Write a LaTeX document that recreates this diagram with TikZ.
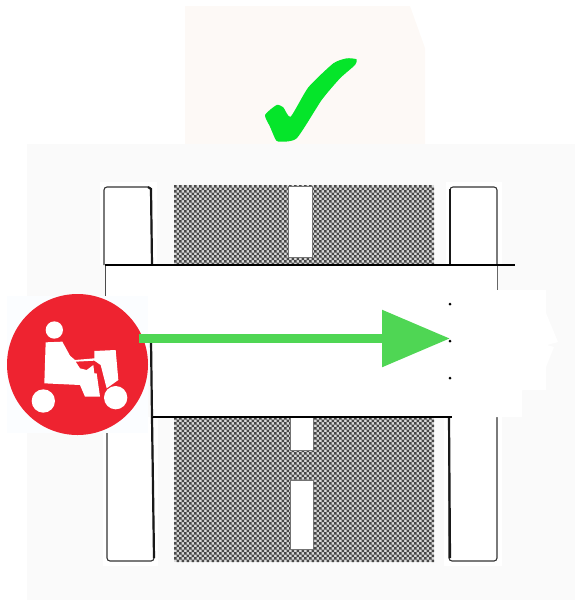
\documentclass[tikz,border=0pt]{standalone}
\usepackage{xcolor}
\usetikzlibrary{arrows.meta,positioning}
\definecolor{panelgrey}{HTML}{FAFAFA}
\definecolor{paneltop}{HTML}{FDF9F6}
\definecolor{signhalo}{HTML}{FBFDFF}
\definecolor{signred}{HTML}{EE2330}
\definecolor{tickgreen}{HTML}{05E52A}
\definecolor{arrowgreen}{HTML}{4FD654}
\newcommand{\roadchecks}[4]{%
  \fill[black!14] (#1,#2) rectangle ++(5*#3,5*#4);
  \foreach \i in {1,...,#3} \foreach \j in {1,...,#4} {
    \fill[black!72] (#1+5*\i-5,#2+5*\j-5) rectangle ++(2.5,2.5)
      (#1+5*\i-2.5,#2+5*\j-2.5) rectangle ++(2.5,2.5);
  }}

\begin{document}
\begin{tikzpicture}[
      x=1pt, y=-1pt,
      dash box/.style={draw=black!55, line width=1pt, fill=white},
      kerb/.style={draw=black!80, line width=1.1pt, rounded corners=3pt},
      heavy/.style={draw=black!90, line width=2.2pt},
      arr/.style={-{Triangle[length=68pt,width=55pt]}, draw=arrowgreen, line width=9pt}
    ]
    \useasboundingbox (0,0) rectangle (575,600);

    % backgrounds
    \fill[paneltop] (185,6) -- (410,6) -- (425,48) -- (425,144) -- (185,144) -- cycle;
    \fill[panelgrey] (27,144) rectangle (575,600);

    % road surface
    \roadchecks{174}{185}{52}{16}
    \roadchecks{174}{417}{52}{29}
    \draw[dash box] (288,186) rectangle (312,257);
    \draw[dash box] (290,417) rectangle (313,450);
    \draw[dash box] (290,480) rectangle (313,549);

    % kerbs
    \fill[white] (100,182) rectangle (157,265);
    \fill[white] (446,182) rectangle (502,265);
    \fill[white] (103,417) rectangle (158,566);
    \fill[white] (444,417) rectangle (502,566);
    \draw[kerb] (104,265) |- (151,187) -- (152,265);
    \draw[heavy] (148,187) -- (151,189) -- (152,265);
    \draw[kerb] (450,265) |- (497,187) -- (497,265);
    \draw[heavy] (450,189) -- (450,265);
    \draw[kerb] (107,433) |- (154,561) -- (152,417);
    \draw[heavy] (152,417) -- (154,558);
    \draw[kerb] (449,417) |- (497,561) -- (497,417);
    \draw[heavy] (449,417) -- (450,558);

    % crossing strip
    \fill[white] (105,266) -- (497,266) -- (497,290) -- (546,290) -- (546,313)
      -- (558,342) -- (547,345) -- (554,347) -- (546,367) -- (546,390) -- (522,390)
      -- (522,417) -- (153,417) -- (153,340) -- (105,340) -- cycle;
    \draw[black, line width=2.4pt] (105,265) -- (515,265);
    \draw[black, line width=1.4pt] (152,417) -- (452,417);
    \draw[black!70, line width=1pt] (105,266) -- (105,296);
    \draw[black!60, line width=1pt] (497,266) -- (497,290);
    \draw[heavy] (151,340) -- (152,417);
    \fill[black] (450,304) circle (1.5) (450,341) circle (1.5) (450,378) circle (1.5);

    % scooter sign
    \fill[signhalo] (7,296) rectangle (148,433);
    \node[circle, fill=signred, minimum size=141pt, inner sep=0pt] (sign) at (77.5,364.5) {};
    \begin{scope}[shift={(35,315)}, scale=1/3]
      \fill[white] (58,45) circle (26);
      \fill[white] (25,258) circle (35);
      \fill[white] (242,248) circle (35);
      \fill[white] (32,82) -- (82,80) -- (105,122) -- (120,135) -- (178,130) -- (178,108)
        -- (242,105) -- (250,195) -- (215,220) -- (197,150) -- (178,137) -- (122,140)
        -- (135,160) -- (155,165) -- (175,150) -- (178,175) -- (185,175) -- (195,245)
        -- (150,245) -- (135,210) -- (28,205) -- cycle;
    \end{scope}

    % route arrow
    \coordinate (start) at (139,338.5);
    \coordinate (stop) at (450,338.5);
    \draw[arr] (start) -- (stop);

    % tick
    \begin{scope}[shift={(170,0)}, scale=1/3]
      \fill[tickgreen] plot[smooth cycle, tension=0.35] coordinates {
        (285,345) (320,315) (340,322) (362,350) (415,262) (490,190) (530,175)
        (560,178) (555,195) (510,235) (455,300) (380,415) (325,425) (315,415) (300,380)};
    \end{scope}
  \end{tikzpicture}
\end{document}
